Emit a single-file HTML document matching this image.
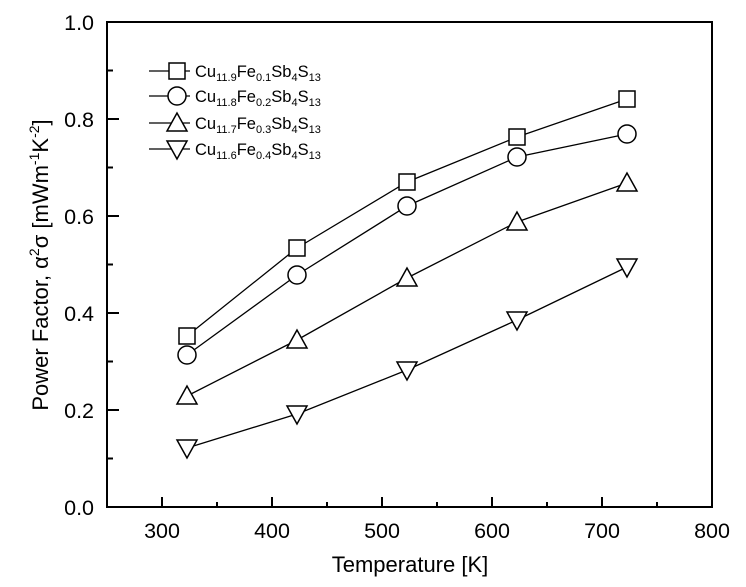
<!DOCTYPE html>
<html><head><style>body{margin:0;background:#fff}svg{display:block}</style></head><body>
<svg width="746" height="587" xmlns="http://www.w3.org/2000/svg" font-family="Liberation Sans, Arial, sans-serif">
<rect width="746" height="587" fill="#fff"/>
<g stroke="#000" stroke-width="2" fill="none">
<rect x="107" y="22" width="605" height="485"/>
</g>
<g stroke="#000" stroke-width="2">
<line x1="162" y1="507" x2="162" y2="497"/><line x1="272" y1="507" x2="272" y2="497"/><line x1="382" y1="507" x2="382" y2="497"/><line x1="492" y1="507" x2="492" y2="497"/><line x1="602" y1="507" x2="602" y2="497"/>
<line x1="217" y1="507" x2="217" y2="502"/><line x1="327" y1="507" x2="327" y2="502"/><line x1="437" y1="507" x2="437" y2="502"/><line x1="547" y1="507" x2="547" y2="502"/><line x1="657" y1="507" x2="657" y2="502"/>
<line x1="107" y1="410" x2="119" y2="410"/><line x1="107" y1="313" x2="119" y2="313"/><line x1="107" y1="216" x2="119" y2="216"/><line x1="107" y1="119" x2="119" y2="119"/>
<line x1="107" y1="458.5" x2="113" y2="458.5"/><line x1="107" y1="361.5" x2="113" y2="361.5"/><line x1="107" y1="264.5" x2="113" y2="264.5"/><line x1="107" y1="167.5" x2="113" y2="167.5"/><line x1="107" y1="70.5" x2="113" y2="70.5"/>
</g>
<g font-size="21.5" text-anchor="middle" fill="#000">
<text x="162" y="538">300</text><text x="272" y="538">400</text><text x="382" y="538">500</text><text x="492" y="538">600</text><text x="602" y="538">700</text><text x="712" y="538">800</text>
<text x="410" y="572" font-size="22">Temperature [K]</text>
</g>
<g font-size="21.5" text-anchor="end" fill="#000">
<text x="94" y="515">0.0</text><text x="94" y="418">0.2</text><text x="94" y="321">0.4</text><text x="94" y="224">0.6</text><text x="94" y="127">0.8</text><text x="94" y="30">1.0</text>
</g>
<text transform="translate(48,265) rotate(-90)" font-size="22" text-anchor="middle">Power Factor, α<tspan font-size="14" dy="-9">2</tspan><tspan dy="9">σ [mWm</tspan><tspan font-size="14" dy="-9">-1</tspan><tspan dy="9">K</tspan><tspan font-size="14" dy="-9">-2</tspan><tspan dy="9">]</tspan></text>
<g stroke="#000" stroke-width="1.3" fill="none">
<polyline points="187,336 297,248 407,182 517,137 627,99"/>
<polyline points="187,355 297,275 407,206 517,157 627,134"/>
<polyline points="187,396 297,340 407,278 517,222 627,183"/>
<polyline points="187,448 297,414 407,370 517,320 627,267"/>
</g>
<g stroke="#000" stroke-width="1.5" fill="#fff">
<rect x="179" y="328" width="16" height="16"/><rect x="289" y="240" width="16" height="16"/><rect x="399" y="174" width="16" height="16"/><rect x="509" y="129" width="16" height="16"/><rect x="619" y="91" width="16" height="16"/>
<circle cx="187" cy="355" r="9"/><circle cx="297" cy="275" r="9"/><circle cx="407" cy="206" r="9"/><circle cx="517" cy="157" r="9"/><circle cx="627" cy="134" r="9"/>
<polygon points="187,386 177,404 197,404"/><polygon points="297,330 287,348 307,348"/><polygon points="407,268 397,286 417,286"/><polygon points="517,212 507,230 527,230"/><polygon points="627,173 617,191 637,191"/>
<polygon points="187,458 177,440 197,440"/><polygon points="297,424 287,406 307,406"/><polygon points="407,380 397,362 417,362"/><polygon points="517,330 507,312 527,312"/><polygon points="627,277 617,259 637,259"/>
</g>
<g stroke="#000" stroke-width="1.3">
<line x1="149" y1="71" x2="190" y2="71"/><line x1="149" y1="96" x2="190" y2="96"/><line x1="149" y1="123" x2="190" y2="123"/><line x1="149" y1="149" x2="190" y2="149"/>
</g>
<g stroke="#000" stroke-width="1.5" fill="#fff">
<rect x="169" y="63" width="16" height="16"/>
<circle cx="177" cy="96" r="9"/>
<polygon points="177,113 167,131 187,131"/>
<polygon points="177,159 167,141 187,141"/>
</g>
<g font-size="16.5" fill="#000">
<text x="195" y="77">Cu<tspan font-size="11" dy="4">11.9</tspan><tspan dy="-4">Fe</tspan><tspan font-size="11" dy="4">0.1</tspan><tspan dy="-4">Sb</tspan><tspan font-size="11" dy="4">4</tspan><tspan dy="-4">S</tspan><tspan font-size="11" dy="4">13</tspan></text>
<text x="195" y="102">Cu<tspan font-size="11" dy="4">11.8</tspan><tspan dy="-4">Fe</tspan><tspan font-size="11" dy="4">0.2</tspan><tspan dy="-4">Sb</tspan><tspan font-size="11" dy="4">4</tspan><tspan dy="-4">S</tspan><tspan font-size="11" dy="4">13</tspan></text>
<text x="195" y="129">Cu<tspan font-size="11" dy="4">11.7</tspan><tspan dy="-4">Fe</tspan><tspan font-size="11" dy="4">0.3</tspan><tspan dy="-4">Sb</tspan><tspan font-size="11" dy="4">4</tspan><tspan dy="-4">S</tspan><tspan font-size="11" dy="4">13</tspan></text>
<text x="195" y="155">Cu<tspan font-size="11" dy="4">11.6</tspan><tspan dy="-4">Fe</tspan><tspan font-size="11" dy="4">0.4</tspan><tspan dy="-4">Sb</tspan><tspan font-size="11" dy="4">4</tspan><tspan dy="-4">S</tspan><tspan font-size="11" dy="4">13</tspan></text>
</g>
</svg>
</body></html>
